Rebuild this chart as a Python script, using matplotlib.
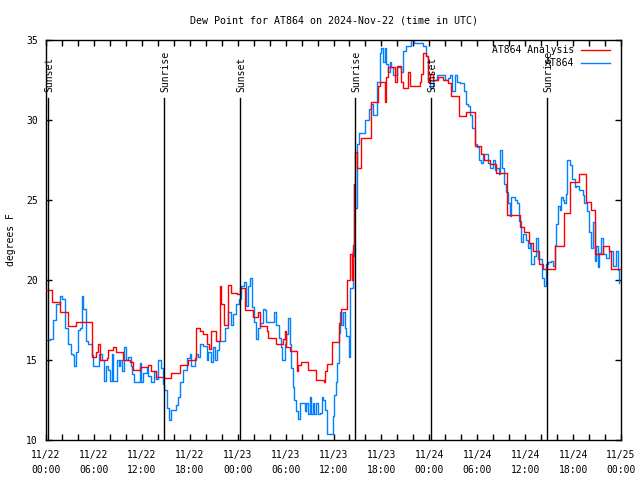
import matplotlib
matplotlib.use("Agg")
import matplotlib.pyplot as plt
import numpy as np

plt.rcParams['font.family'] = ['DejaVu Sans Mono']
plt.rcParams['font.size'] = 7

# --- data (hours since 2024-11-22 00:00 UTC, dew point in F) ---
red_t = [0.0, 0.7, 1.7, 2.8, 3.75, 5.7, 6.3, 6.5, 6.75, 7.6, 7.8, 8.4, 8.75, 9.7, 10.5,
         10.9, 11.75, 12.8, 13.1, 13.8, 14.75, 15.7, 16.75, 17.8, 18.6, 18.8, 19.25, 19.7,
         20.1, 20.4, 20.7, 21.3, 21.75, 21.95, 22.25, 22.8, 23.2, 23.9, 24.25, 24.9, 25.9,
         26.5, 26.75, 27.7, 27.8, 28.8, 29.7, 29.9, 30.1, 30.5, 31.4, 31.6, 31.95, 32.8,
         33.75, 34.8, 34.9, 35.2, 35.8, 36.7, 37.0, 37.7, 38.1, 38.35, 38.5, 38.55, 38.7,
         38.9, 39.5, 40.75, 41.6, 41.8, 42.4, 42.6, 42.85, 43.7, 43.9, 44.5, 44.7, 45.35,
         45.55, 46.8, 47.0, 47.2, 47.55, 47.85, 48.05, 48.5, 49.1, 49.7, 50.3, 50.75, 51.7,
         52.6, 53.7, 54.5, 54.8, 55.55, 56.4, 57.7, 59.3, 59.8, 60.5, 61.0, 61.7, 62.2,
         63.7, 64.8, 65.6, 66.7, 67.6, 68.3, 68.7, 69.7, 70.5, 70.8, 71.9]
red_v = [19.4, 18.6, 18.0, 17.1, 17.4, 15.2, 15.5, 16.0, 15.0, 15.1, 15.6, 15.8, 15.5, 15.0, 14.9,
         14.35, 14.55, 14.7, 14.3, 13.95, 13.85, 14.2, 14.7, 15.0, 15.1, 17.0, 16.8, 16.6,
         16.0, 15.7, 16.8, 16.2, 19.6, 18.5, 17.2, 19.7, 19.2, 19.1, 19.5, 18.1, 17.7,
         18.0, 17.1, 16.8, 16.35, 16.0, 16.3, 16.8, 15.8, 15.55, 14.3, 14.7, 14.9, 14.4,
         13.75, 13.6, 14.3, 14.75, 16.1, 17.3, 18.2, 20.0, 21.6, 20.0, 22.2, 26.0, 28.0,
         27.0, 28.85, 31.15, 32.1, 32.4, 31.1, 32.7, 33.3, 32.4, 33.4, 32.4, 32.0, 33.0,
         32.1, 32.4, 32.9, 34.2, 34.0, 32.4, 32.9, 32.5, 32.7, 32.5, 32.3, 31.5, 30.25,
         30.5, 28.4, 27.9, 27.5, 27.25, 26.7, 24.05, 23.3, 23.0, 22.3, 21.8, 21.0, 20.7,
         22.1, 24.2, 26.1, 26.6, 24.9, 24.4, 21.6, 22.1, 21.8, 20.7, 20.7]

blue_t = [0.1, 0.5, 0.9, 1.3, 1.7, 1.95, 2.4, 2.8, 3.1, 3.35, 3.5, 3.75, 4.05, 4.25, 4.45,
          4.65, 5.0, 5.3, 5.7, 5.9, 6.3, 6.65, 6.95, 7.25, 7.5, 7.8, 8.0, 8.3, 8.4, 8.7,
          8.9, 9.1, 9.3, 9.55, 9.75, 10.0, 10.3, 10.6, 10.8, 11.0, 11.5, 11.75, 11.95, 12.15,
          12.6, 12.8, 13.2, 13.55, 13.8, 14.05, 14.45, 14.65, 14.8, 15.1, 15.4, 15.7, 16.1,
          16.3, 16.55, 16.75, 17.15, 17.6, 18.0, 18.2, 18.4, 18.6, 18.8, 19.05, 19.25, 19.65,
          20.1, 20.3, 20.7, 20.9, 21.1, 21.4, 21.65, 21.95, 22.4, 22.8, 23.0, 23.2, 23.4,
          23.85, 24.15, 24.45, 24.75, 25.0, 25.3, 25.6, 25.85, 26.1, 26.3, 26.55, 26.8, 27.15,
          27.4, 27.6, 28.2, 28.5, 28.8, 29.2, 29.45, 29.6, 29.9, 30.1, 30.3, 30.5, 30.7,
          30.9, 31.1, 31.3, 31.55, 31.75, 32.15, 32.4, 32.6, 32.8, 33.0, 33.2, 33.4, 33.6,
          33.8, 34.05, 34.3, 34.5, 34.7, 34.9, 35.2, 35.6, 35.9, 36.1, 36.3, 36.5, 36.7,
          36.8, 37.0, 37.2, 37.4, 37.6, 38.0, 38.1, 38.4, 38.5, 38.6, 38.75, 38.9, 39.2,
          39.7, 39.9, 40.5, 40.75, 41.0, 41.3, 41.5, 41.8, 42.0, 42.2, 42.4, 42.6, 42.85,
          43.05, 43.25, 43.5, 43.9, 44.3, 44.5, 44.7, 45.1, 45.75, 46.05, 46.8, 47.2, 47.55,
          47.85, 48.05, 48.5, 48.9, 49.7, 49.9, 50.3, 50.6, 50.9, 51.2, 51.5, 51.9, 52.3,
          52.55, 52.85, 53.05, 53.4, 53.7, 54.0, 54.2, 54.5, 54.7, 55.1, 55.35, 55.6, 56.0,
          56.2, 56.4, 56.7, 56.9, 57.15, 57.4, 57.6, 57.85, 58.05, 58.25, 58.7, 59.0, 59.2,
          59.5, 59.7, 60.05, 60.35, 60.55, 60.75, 61.05, 61.4, 61.6, 61.9, 62.1, 62.3, 62.6,
          62.85, 63.25, 63.5, 63.7, 63.9, 64.1, 64.3, 64.5, 64.7, 64.9, 65.1, 65.3, 65.6,
          65.9, 66.2, 66.4, 66.8, 67.2, 67.4, 67.75, 68.05, 68.25, 68.5, 68.7, 68.9, 69.1,
          69.3, 69.5, 69.7, 70.1, 70.55, 70.95, 71.4, 71.6, 71.8]
blue_v = [16.25, 16.3, 17.5, 18.5, 19.0, 18.8, 17.0, 16.0, 15.4, 15.3, 14.6, 15.5, 16.9, 17.0, 19.0,
          18.2, 16.2, 16.0, 15.3, 14.6, 14.6, 15.4, 15.0, 13.7, 14.6, 14.4, 13.7, 15.4, 13.7, 13.7,
          15.0, 14.6, 15.0, 14.3, 15.8, 15.0, 15.2, 14.6, 14.1, 13.6, 13.6, 14.8, 13.6, 14.2,
          14.5, 14.0, 13.6, 14.3, 13.8, 15.0, 14.5, 13.5, 13.1, 12.0, 11.25, 11.9, 11.9,
          12.2, 12.7, 13.6, 14.4, 15.1, 15.4, 14.6, 14.6, 15.0, 15.4, 15.2, 16.0, 15.9,
          15.0, 15.5, 14.9, 15.8, 15.0, 15.6, 16.2, 16.2, 17.0, 18.0, 18.0, 17.2, 17.9,
          18.5, 18.8, 19.6, 19.9, 18.4, 19.6, 20.1, 18.3, 17.4, 16.3, 17.0, 17.3, 18.2,
          18.1, 17.4, 17.4, 18.0, 17.2, 16.4, 15.8, 15.0, 16.0, 16.6, 17.6, 16.0, 14.5,
          13.3, 12.5, 11.8, 11.3, 12.3, 12.3, 11.8, 12.3, 11.6, 12.7, 11.6, 12.3, 11.6,
          12.3, 11.6, 11.7, 12.7, 12.5, 11.9, 10.4, 10.4, 11.5, 12.8, 13.65, 14.8, 16.7,
          18.0, 17.2, 18.0, 17.0, 16.5, 15.2, 19.5, 21.8, 21.5, 26.0, 24.5, 28.5, 29.2,
          29.2, 30.0, 30.7, 31.0, 30.3, 30.3, 32.4, 34.2, 34.5, 33.6, 34.5, 33.5, 33.0,
          33.6, 33.3, 32.8, 33.3, 33.3, 33.0, 34.3, 34.6, 35.0, 34.8, 34.8, 34.6, 34.0,
          32.5, 32.0, 32.5, 32.8, 32.8, 32.5, 32.6, 32.8, 31.8, 32.8, 32.4, 32.3, 31.8,
          31.0, 30.9, 30.3, 29.5, 28.5, 28.3, 27.5, 27.3, 27.9, 27.9, 27.3, 27.0, 27.5,
          26.9, 27.0, 26.6, 28.1, 27.0, 26.0, 25.5, 24.8, 24.0, 25.2, 25.0, 24.8, 23.7,
          22.4, 22.9, 22.5, 22.0, 22.3, 21.0, 21.5, 22.6, 21.3, 21.3, 20.1, 19.6, 21.0,
          21.15, 21.2, 20.9, 22.2, 23.5, 24.6, 24.4, 25.2, 25.0, 24.8, 25.4, 27.5, 27.2,
          26.3, 25.8, 25.9, 25.6, 25.3, 24.8, 24.3, 23.0, 22.0, 23.6, 21.2, 22.1, 20.8,
          21.7, 22.6, 21.6, 21.4, 21.8, 20.9, 21.8, 20.6, 19.8]

sun_t = [0.25, 14.75, 24.3, 38.7, 48.2, 62.75]
sun_names = ['Sunset', 'Sunrise', 'Sunset', 'Sunrise', 'Sunset', 'Sunrise']

xtick_hours = list(range(0, 73, 6))
xtick_labels = ['11/22\n00:00', '11/22\n06:00', '11/22\n12:00', '11/22\n18:00',
                '11/23\n00:00', '11/23\n06:00', '11/23\n12:00', '11/23\n18:00',
                '11/24\n00:00', '11/24\n06:00', '11/24\n12:00', '11/24\n18:00',
                '11/25\n00:00']

fig = plt.figure(figsize=(6.4, 4.8), dpi=100)
ax = fig.add_axes([46/640, 40/480, 575/640, 400/480])

ax.plot(red_t, red_v, color='#ff0000', lw=1.0, drawstyle='steps-post', zorder=3)
ax.plot(blue_t, blue_v, color='#0080ff', lw=1.0, drawstyle='steps-post', zorder=2)

for t, name in zip(sun_t, sun_names):
    ax.plot([t, t], [10, 31.4], color='black', lw=1.0, zorder=4)
    ax.text(t + 0.15, 31.75, name, rotation=90, ha='center', va='bottom', zorder=5)

ax.set_xlim(0, 72)
ax.set_ylim(10, 35)
ax.set_xticks(xtick_hours)
ax.set_xticklabels(xtick_labels, linespacing=1.7)
ax.set_xticks(np.arange(0, 73, 2), minor=True)
ax.set_yticks([10, 15, 20, 25, 30, 35])
ax.tick_params(which='both', direction='in', top=True, right=True, length=4, width=1)
ax.tick_params(axis='x', pad=7)
ax.tick_params(axis='y', pad=6)
for s in ax.spines.values():
    s.set_linewidth(1.0)

ax.set_ylabel('degrees F', labelpad=7)
ax.set_title('Dew Point for AT864 on 2024-Nov-22 (time in UTC)', fontsize=7.2, pad=12)

# legend, gnuplot style (text right aligned, sample to the right)
leg_items = [('AT864 Analysis', '#ff0000'), ('AT864', '#0080ff')]
for i, (lab, col) in enumerate(leg_items):
    yy = 0.975 - i * 0.0325
    ax.text(0.918, yy, lab, transform=ax.transAxes, ha='right', va='center')
    ax.plot([0.930, 0.981], [yy, yy], transform=ax.transAxes, color=col, lw=1.0)

fig.savefig('out.png', dpi=100)
